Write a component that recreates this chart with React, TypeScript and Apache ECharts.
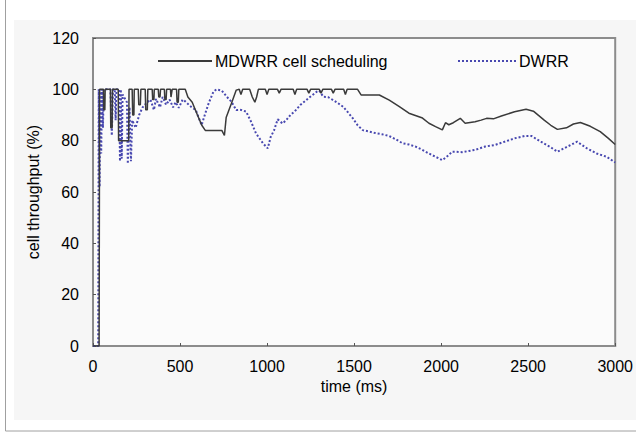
import React, { useEffect, useRef } from "react";
import * as echarts from "echarts";

const xTicks = [0, 500, 1000, 1500, 2000, 2500, 3000];
const yTicks = [0, 20, 40, 60, 80, 100, 120];

const seriesNames = ["MDWRR cell scheduling", "DWRR"];

const mdwrr: [number, number][] = [
  [0, 0], [35, 0], [38, 100], [60, 100], [62, 92], [68, 92], [70, 100], [100, 100], [102, 85], [110, 85],
  [112, 100], [145, 100], [147, 80], [205, 80], [207, 100], [225, 100], [228, 90], [235, 90], [237, 100],
  [260, 100], [263, 94], [272, 94], [275, 100], [300, 100], [303, 92], [312, 92], [315, 100], [340, 100],
  [343, 96], [350, 96], [352, 100], [375, 100], [378, 97], [385, 97], [388, 100], [410, 100], [413, 96],
  [420, 96], [423, 100], [445, 100], [448, 97], [455, 100], [480, 100], [483, 95], [490, 95], [493, 100],
  [530, 100], [545, 97], [570, 95], [600, 90], [625, 86], [645, 84], [700, 84], [740, 84], [755, 82],
  [765, 89], [795, 94.5], [823, 99.7], [840, 100], [850, 98], [860, 100], [900, 100], [915, 97], [930, 95],
  [940, 97], [950, 100], [990, 100], [1000, 98], [1010, 100], [1060, 100], [1070, 98.5], [1080, 100],
  [1150, 100], [1160, 98], [1170, 100], [1230, 100], [1240, 98.5], [1250, 100], [1300, 100], [1310, 98.5],
  [1320, 100], [1370, 100], [1380, 98.5], [1390, 100], [1440, 100], [1450, 98], [1460, 100], [1520, 100],
  [1540, 97.8], [1645, 97.8], [1702, 95.8], [1760, 93.3], [1815, 90.7], [1893, 88.8], [1930, 86.8],
  [1968, 85.5], [2007, 84.2], [2025, 87], [2044, 86.2], [2070, 87], [2110, 88.7], [2138, 86.8], [2195, 87.4],
  [2230, 88], [2261, 88.7], [2300, 88.5], [2346, 89.6], [2422, 91.3], [2488, 92.2], [2530, 91.5], [2592, 88],
  [2630, 86], [2668, 84.4], [2720, 85], [2760, 86.5], [2800, 87.1], [2857, 85.6], [2914, 83.5], [2961, 80.9],
  [3000, 78.5],
];

const dwrr: [number, number][] = [
  [0, 0], [30, 0], [33, 100], [38, 62], [42, 100], [47, 75], [52, 100], [57, 85], [62, 100], [100, 100],
  [108, 82], [115, 100], [125, 100], [130, 88], [135, 100], [150, 100], [155, 72], [160, 100], [165, 73],
  [170, 98], [195, 95], [200, 71], [210, 93], [218, 72], [225, 88], [245, 85], [265, 90], [285, 93],
  [305, 94.5], [330, 96], [350, 92], [362, 96.3], [385, 93], [400, 97], [420, 94], [440, 96], [460, 93],
  [475, 95], [493, 92.8], [515, 96], [532, 95.2], [550, 94], [567, 93], [590, 92], [607, 89], [624, 86.1],
  [645, 90.6], [664, 94.5], [692, 99.1], [710, 100], [740, 99.5], [770, 97], [795, 95.2], [823, 91.9],
  [850, 92], [880, 91.3], [908, 87.4], [936, 82.9], [976, 79], [1004, 77], [1021, 81.5], [1040, 84],
  [1061, 88.3], [1089, 86.7], [1110, 88], [1134, 90], [1160, 91.5], [1191, 93.9], [1220, 95.5], [1248, 97.1],
  [1286, 99.1], [1300, 99.5], [1323, 97.1], [1350, 97], [1380, 95.8], [1410, 94.5], [1437, 93.2], [1465, 91],
  [1493, 88.7], [1520, 86], [1550, 84.1], [1590, 83.5], [1626, 82.9], [1660, 82.5], [1702, 81.8], [1740, 80.5],
  [1778, 79], [1815, 78.5], [1853, 77.7], [1890, 76.5], [1930, 75], [1968, 73.7], [1987, 73.1], [2007, 72.4],
  [2044, 74.4], [2063, 75.7], [2082, 75.7], [2120, 75.5], [2160, 76], [2195, 76.4], [2252, 77.7], [2308, 78.3],
  [2365, 79.6], [2422, 80.9], [2479, 81.8], [2520, 81.8], [2573, 79.6], [2630, 77.4], [2668, 75.7], [2720, 77.5],
  [2781, 79.6], [2838, 77], [2894, 75], [2951, 73.7], [3000, 71.5],
];

const FONT = "'Liberation Sans', Arial, sans-serif";
const FS = 16;

export default function App() {
  const ref = useRef<HTMLDivElement>(null);
  useEffect(() => {
    if (!ref.current) return;
    const chart = echarts.init(ref.current, undefined, { renderer: "svg" });
    chart.setOption({
      animation: false,
      backgroundColor: "#ffffff",
      graphic: [
        {
          type: "rect",
          silent: true,
          z: -10,
          shape: { x: 5.5, y: -2, width: 640, height: 433 },
          style: { fill: "#ffffff", stroke: "#a0a0a0", lineWidth: 1 },
        },
        {
          type: "rect",
          silent: true,
          z: -9,
          shape: { x: 14, y: 20, width: 622, height: 400 },
          style: { fill: "#f6f6f6" },
        },
      ],
      textStyle: { fontFamily: FONT },
      grid: {
        left: 93,
        top: 38,
        width: 529,
        height: 308,
        show: true,
        backgroundColor: "#fbfbfb",
        borderColor: "#8c8c8c",
        borderWidth: 2,
      },
      legend: [
        {
          data: [seriesNames[0]],
          left: 152,
          top: 48,
          itemWidth: 54,
          itemHeight: 10,
          itemGap: 4,
          itemStyle: { opacity: 0 },
          textStyle: { fontSize: FS, color: "#000", fontFamily: FONT, padding: [0, 0, 0, -2] },
        },
        {
          data: [seriesNames[1]],
          left: 452,
          top: 48,
          itemWidth: 58,
          itemHeight: 10,
          itemStyle: { opacity: 0 },
          textStyle: { fontSize: FS, color: "#000", fontFamily: FONT, padding: [0, 0, 0, -2] },
        },
      ],
      xAxis: {
        type: "value",
        min: xTicks[0],
        max: xTicks[xTicks.length - 1],
        interval: 500,
        name: "time (ms)",
        nameLocation: "middle",
        nameGap: 31,
        nameTextStyle: { fontSize: FS, color: "#000", fontFamily: FONT },
        axisLine: { show: true, lineStyle: { color: "#8c8c8c", width: 2 } },
        axisTick: { show: true, inside: true, length: 3, lineStyle: { color: "#555" } },
        axisLabel: {
          fontSize: FS,
          color: "#000",
          margin: 12,
          fontFamily: FONT,
          formatter: (v: number) => String(v),
        },
        splitLine: { show: false },
      },
      yAxis: {
        type: "value",
        min: yTicks[0],
        max: yTicks[yTicks.length - 1],
        interval: 20,
        name: "cell throughput (%)",
        nameLocation: "middle",
        nameGap: 46,
        nameTextStyle: { fontSize: FS, color: "#000", fontFamily: FONT },
        axisLine: { show: true, lineStyle: { color: "#8c8c8c", width: 2 } },
        axisTick: { show: true, inside: true, length: 3, lineStyle: { color: "#555" } },
        axisLabel: { fontSize: FS, color: "#000", margin: 14, fontFamily: FONT },
        splitLine: { show: false },
      },
      series: [
        {
          name: seriesNames[1],
          type: "line",
          data: dwrr,
          symbol: "none",
          lineStyle: { color: "#4848b0", width: 2, type: [2, 2] },
          itemStyle: { color: "#4848b0" },
          z: 2,
        },
        {
          name: seriesNames[0],
          type: "line",
          data: mdwrr,
          symbol: "none",
          lineStyle: { color: "#3a3a3a", width: 1.5 },
          itemStyle: { color: "#3a3a3a" },
          z: 3,
        },
      ],
    });
    return () => chart.dispose();
  }, []);
  return (
    <div
      ref={ref}
      style={{ position: "fixed", left: 0, top: 0, width: 636, height: 437 }}
    />
  );
}
